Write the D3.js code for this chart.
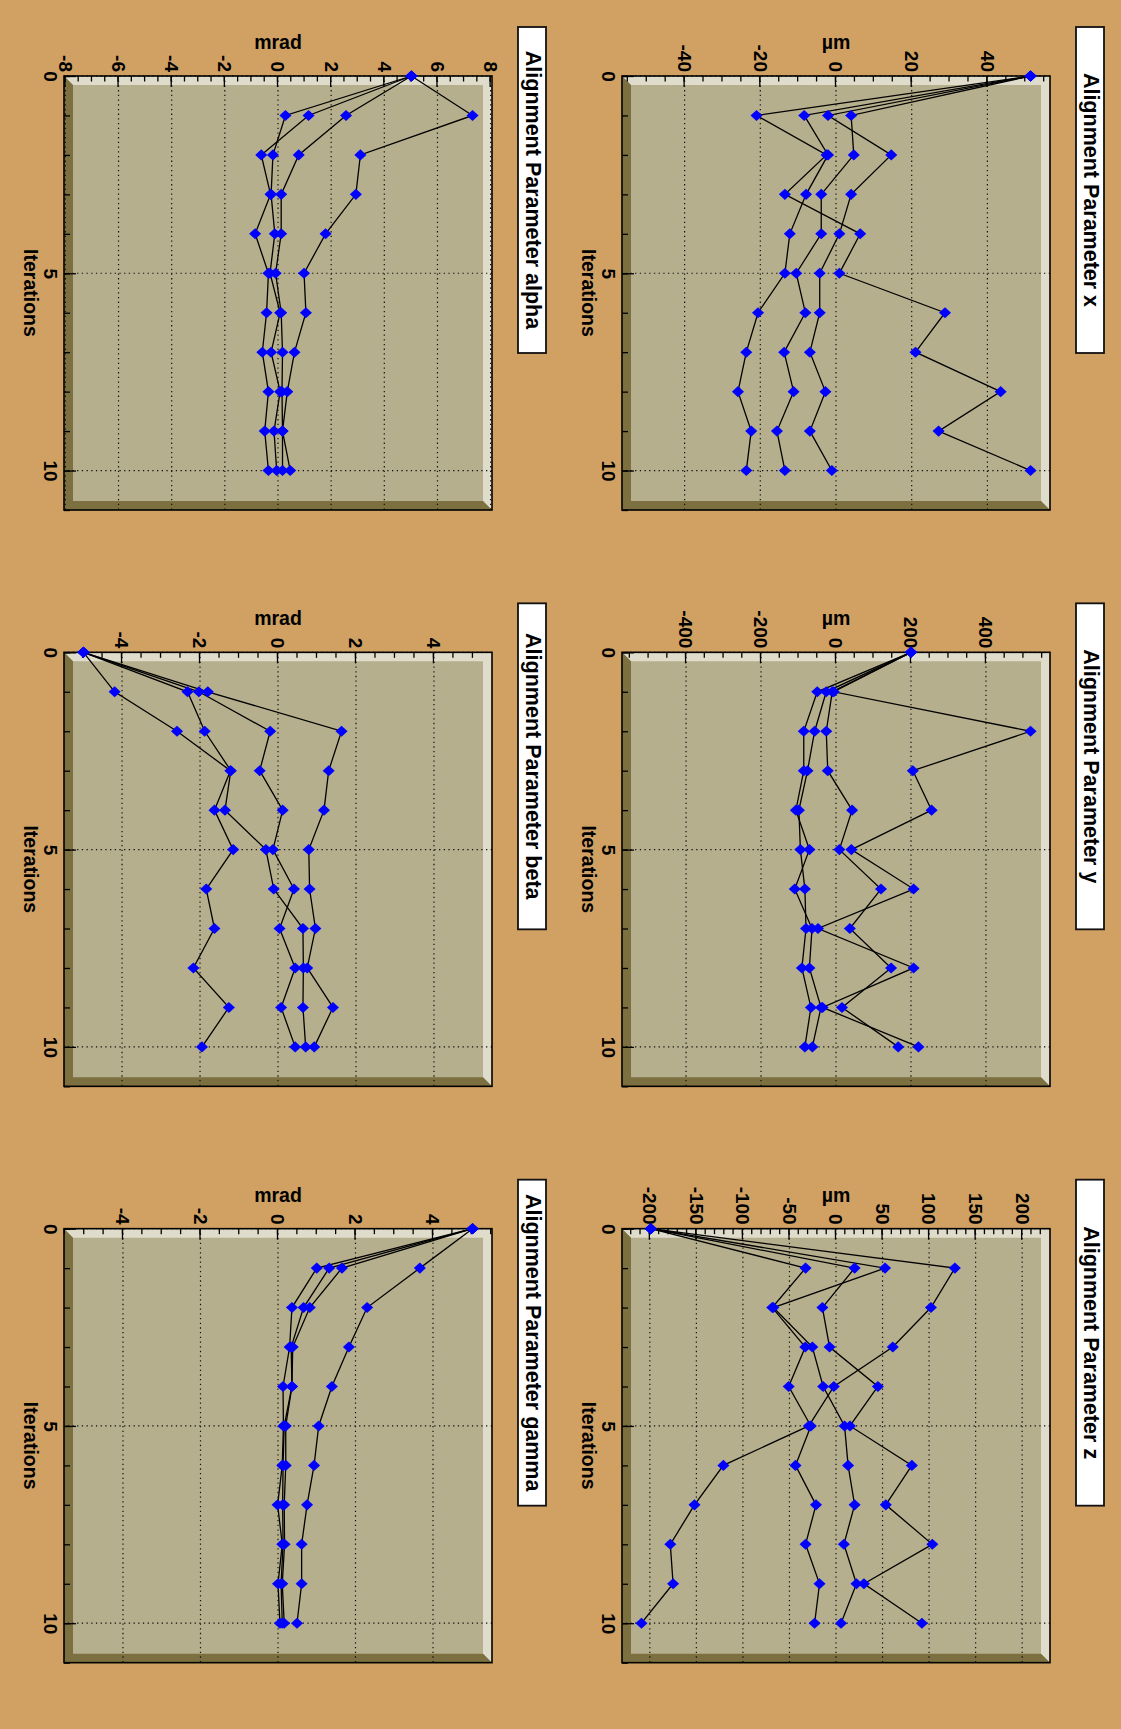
<!DOCTYPE html>
<html>
<head>
<meta charset="utf-8">
<script src="https://cdn.jsdelivr.net/npm/d3@7"></script>
<style>
  html, body { margin: 0; padding: 0; background: #d1a063; }
  svg { display: block; }
</style>
</head>
<body>
<div id="chart"></div>
<script>
// ---------------- data ----------------
const iterations = [0, 1, 2, 3, 4, 5, 6, 7, 8, 9, 10];

const titles = [
  "Alignment Parameter x", "Alignment Parameter y", "Alignment Parameter z",
  "Alignment Parameter alpha", "Alignment Parameter beta", "Alignment Parameter gamma"
];
const units = ["\u00B5m", "\u00B5m", "\u00B5m", "mrad", "mrad", "mrad"];

const paramX = [
  [51.4, -21.0, -2.5, -13.5, 6.4, 0.9, 28.8, 21.0, 43.5, 27.1, 51.4],
  [51.4, -8.4, -2.1, -7.9, -12.2, -13.5, -20.6, -23.7, -25.9, -22.4, -23.7],
  [51.4, 4.0, 4.7, -3.9, -3.9, -10.5, -8.1, -13.7, -11.2, -15.6, -13.5],
  [51.4, -2.1, 14.6, 4.0, 0.9, -4.3, -4.3, -6.9, -2.8, -6.9, -1.1]
];
const paramY = [
  [200, -6, 519, 205, 255, 41, 207, -48, 207, -36, 220],
  [200, -10, -26, -22, 43, 9, 120, 37, 147, 16, 166],
  [200, -26, -57, -76, -99, -95, -83, -80, -91, -67, -83],
  [200, -50, -86, -86, -107, -71, -110, -64, -71, -40, -63]
];
const paramZ = [
  [-199, 127.7, 102, 61, -2.3, -29.2, -121, -152, -178, -175, -209],
  [-199, 20, -14.6, -6.9, 45, 15, 81.5, 53.5, 103.5, 30, 92.3],
  [-199, -32.7, -68.5, -33, -50.8, -27, -43.5, -21.5, -32.7, -17.7, -23],
  [-199, 52.7, -67.3, -25.4, -13.8, 9.2, 13, 20, 8.5, 22, 5.4]
];
const paramAlpha = [
  [5.02, 7.32, 3.10, 2.93, 1.79, 0.98, 1.05, 0.62, 0.35, 0.17, 0.17],
  [5.02, 2.56, 0.78, 0.12, 0.12, -0.09, 0.12, 0.17, 0.15, 0.17, 0.46],
  [5.02, 1.15, -0.63, -0.28, -0.86, -0.36, -0.43, -0.59, -0.36, -0.50, -0.36],
  [5.02, 0.28, -0.19, -0.26, -0.12, -0.30, 0.08, -0.26, 0.08, -0.15, -0.05]
];
const paramBeta = [
  [-4.99, -4.19, -2.59, -1.22, -1.63, -1.15, -1.84, -1.63, -2.17, -1.26, -1.95],
  [-4.99, -2.32, -1.88, -1.21, -1.36, -0.31, -0.11, 0.64, 0.65, 0.64, 0.71],
  [-4.99, -2.03, -0.20, -0.47, 0.12, -0.13, 0.41, 0.04, 0.44, 0.08, 0.44],
  [-4.99, -1.80, 1.63, 1.30, 1.18, 0.79, 0.81, 0.96, 0.75, 1.41, 0.93]
];
const paramGamma = [
  [5.02, 3.66, 2.30, 1.83, 1.39, 1.05, 0.93, 0.75, 0.61, 0.61, 0.49],
  [5.02, 1.65, 0.82, 0.38, 0.36, 0.20, 0.20, 0.16, 0.17, 0.11, 0.16],
  [5.02, 1.32, 0.66, 0.34, 0.36, 0.16, 0.13, 0.12, 0.13, 0.08, 0.11],
  [5.02, 1.00, 0.36, 0.30, 0.13, 0.14, 0.11, -0.01, 0.11, 0.00, 0.05]
];
const panelSeries = [paramX, paramY, paramZ, paramAlpha, paramBeta, paramGamma];

const valueTicks = [
  [-40, -20, 0, 20, 40],
  [-400, -200, 0, 200, 400],
  [-200, -150, -100, -50, 0, 50, 100, 150, 200],
  [-8, -6, -4, -2, 0, 2, 4, 6, 8],
  [-4, -2, 0, 2, 4],
  [-4, -2, 0, 2, 4]
];
const valueMinorStep = [5, 50, 10, 0.5, 0.5, 0.5];
const iterTicks = [0, 5, 10];
const iterMinorTicks = [0, 1, 2, 3, 4, 5, 6, 7, 8, 9, 10, 11];

// ---------------- drawing ----------------
const W = 1729, H = 1121;           // original (landscape) canvas
const FONT = "'Liberation Sans', Arial, Helvetica, sans-serif";
const BG = "#d1a063", FRAME = "#b6af8d", LIGHT = "#e0dccb", DARK = "#7c7040";

const svg = d3.select("#chart").append("svg")
  .attr("width", H).attr("height", W);
svg.append("rect").attr("width", H).attr("height", W).attr("fill", BG);

// whole canvas is rotated 90 degrees clockwise
const root = svg.append("g").attr("transform", `translate(${H},0) rotate(90)`);

const diamond = {
  draw(ctx, size) {
    const r = Math.sqrt(size) / 2;
    ctx.moveTo(0, -r);
    ctx.lineTo(r * 0.92, 0);
    ctx.lineTo(0, r);
    ctx.lineTo(-r * 0.92, 0);
    ctx.closePath();
  }
};

panelSeries.forEach((series, i) => {
  const col = i % 3, row = Math.floor(i / 3);
  const px = col * W / 3;
  const L = px + 76, R = L + 434;
  const T = 71 + row * 558, B = T + 428;

  const M = 1.1 * d3.max(series.flat(), v => Math.abs(v));
  const x = d3.scaleLinear().domain([0, 11]).range([L, R]);
  const y = d3.scaleLinear().domain([-M, M]).range([B, T]);

  const g = root.append("g");

  // frame with bevel
  g.append("rect").attr("x", L).attr("y", T).attr("width", R - L).attr("height", B - T)
    .attr("fill", FRAME);
  const b = 9;
  g.append("polygon")
    .attr("points", [[L, B], [L, T], [R, T], [R - b, T + b], [L + b, T + b], [L + b, B - b]].join(" "))
    .attr("fill", LIGHT);
  g.append("polygon")
    .attr("points", [[L, B], [R, B], [R, T], [R - b, T + b], [R - b, B - b], [L + b, B - b]].join(" "))
    .attr("fill", DARK);

  // grid
  const grid = g.append("g").attr("stroke", "#111").attr("stroke-width", 1.2)
    .attr("stroke-dasharray", "1.3,3.4");
  valueTicks[i].forEach(v => {
    grid.append("line").attr("x1", L).attr("x2", R).attr("y1", y(v)).attr("y2", y(v));
  });
  iterTicks.forEach(t => {
    grid.append("line").attr("x1", x(t)).attr("x2", x(t)).attr("y1", T).attr("y2", B);
  });

  // frame border
  g.append("rect").attr("x", L).attr("y", T).attr("width", R - L).attr("height", B - T)
    .attr("fill", "none").attr("stroke", "#000").attr("stroke-width", 1.6);

  // value axis (left in original orientation), ticks inside
  const step = valueMinorStep[i];
  const minor = d3.range(Math.ceil(-M / step), Math.floor(M / step) + 1).map(k => +(k * step).toFixed(6));
  const yMinor = g.append("g").attr("transform", `translate(${L},0)`)
    .call(d3.axisLeft(y).tickValues(minor).tickSize(-5.5).tickFormat(""));
  const yMajor = g.append("g").attr("transform", `translate(${L},0)`)
    .call(d3.axisLeft(y).tickValues(valueTicks[i]).tickSize(-11).tickPadding(4)
      .tickFormat(d => d3.format("")(d).replace("\u2212", "-")));
  [yMinor, yMajor].forEach(a => {
    a.select(".domain").remove();
    a.selectAll("line").attr("stroke", "#000").attr("stroke-width", 1.3);
  });
  yMajor.selectAll("text").attr("font-family", FONT).attr("font-size", 19)
    .attr("font-weight", "bold").attr("fill", "#000");

  // iteration axis (bottom in original orientation)
  const xMinor = g.append("g").attr("transform", `translate(0,${B})`)
    .call(d3.axisBottom(x).tickValues(iterMinorTicks).tickSize(-6).tickFormat(""));
  const xMajor = g.append("g").attr("transform", `translate(0,${B})`)
    .call(d3.axisBottom(x).tickValues(iterTicks).tickSize(-12).tickPadding(6.5).tickFormat(d3.format("d")));
  [xMinor, xMajor].forEach(a => {
    a.select(".domain").remove();
    a.selectAll("line").attr("stroke", "#000").attr("stroke-width", 1.3);
  });
  xMajor.selectAll("text").attr("font-family", FONT).attr("font-size", 19)
    .attr("font-weight", "bold").attr("fill", "#000");

  // axis titles
  g.append("text").attr("x", (L + R) / 2).attr("y", B + 40)
    .attr("text-anchor", "middle").attr("font-family", FONT).attr("font-size", 19.5)
    .attr("font-weight", "bold").text("Iterations");
  g.append("text")
    .attr("transform", `translate(${L - 27},${(T + B) / 2}) rotate(-90)`)
    .attr("text-anchor", "middle").attr("font-family", FONT).attr("font-size", 19.5)
    .attr("font-weight", "bold").text(units[i]);

  // graphs
  const line = d3.line().x((d, k) => x(iterations[k])).y(d => y(d));
  series.forEach(s => {
    g.append("path").attr("d", line(s)).attr("fill", "none")
      .attr("stroke", "#000").attr("stroke-width", 1.3);
  });
  const sym = d3.symbol().type(diamond).size(145);
  series.forEach(s => {
    g.append("g").selectAll("path").data(s).join("path")
      .attr("transform", (d, k) => `translate(${x(iterations[k])},${y(d)})`)
      .attr("d", sym).attr("fill", "#0000ff");
  });

  // title box
  const bx = px + 27, by = T - 54, bw = 326, bh = 28;
  g.append("rect").attr("x", bx).attr("y", by).attr("width", bw).attr("height", bh)
    .attr("fill", "#fff").attr("stroke", "#111").attr("stroke-width", 1.8);
  g.append("text").attr("x", bx + bw / 2).attr("y", by + 20.5)
    .attr("text-anchor", "middle").attr("font-family", FONT).attr("font-size", 21.5)
    .attr("font-weight", "bold").text(titles[i]);
});
</script>
</body>
</html>
